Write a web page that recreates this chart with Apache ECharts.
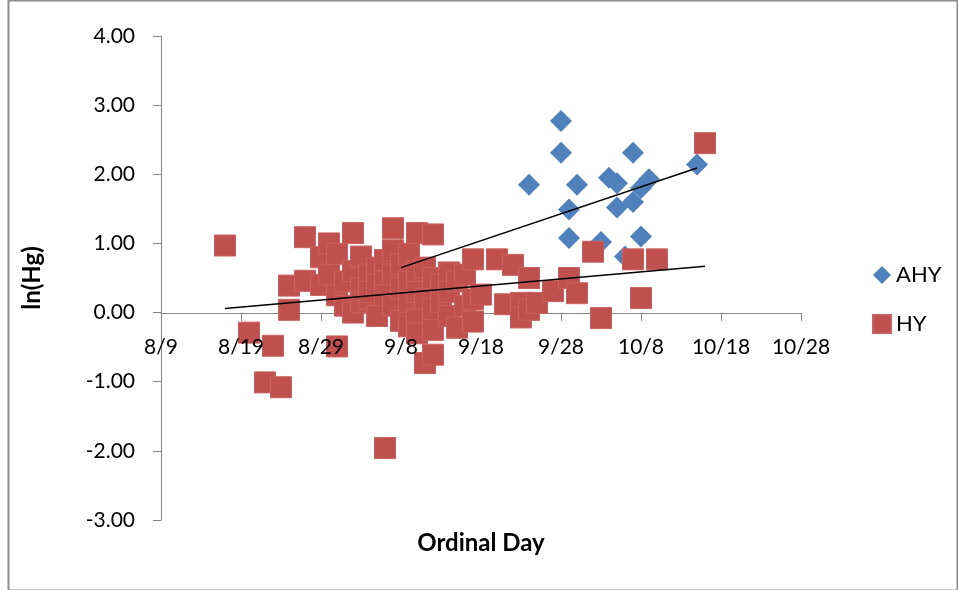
<!DOCTYPE html>
<html>
<head>
<meta charset="utf-8">
<script src="https://cdn.jsdelivr.net/npm/echarts@6/dist/echarts.min.js"></script>
<style>
html,body{margin:0;padding:0;background:#fff;}
#chart{width:958px;height:590px;}
</style>
</head>
<body>
<div id="chart"></div>
<script>
// ---- data ----
var baseDate = '8/9';                 // first x tick
var xTickStepDays = 10;
var xSpanDays = 80;                   // 8/9 .. 10/28
var yTicks = [-3, -2, -1, 0, 1, 2, 3, 4];

var ahyDates  = ['9/8','9/10','9/13','9/24','9/28','9/28','9/29','9/29','9/30','10/3','10/4','10/5','10/5','10/6','10/7','10/7','10/8','10/8','10/9','10/15'];
var ahyValues = [0.90, 0.00, 0.45, 1.85, 2.77, 2.31, 1.49, 1.08, 1.85, 1.02, 1.95, 1.87, 1.52, 0.81, 2.31, 1.60, 1.80, 1.10, 1.93, 2.14];

var hyDates = [
  '8/17','8/20','8/22','8/23','8/24','8/25','8/25','8/27','8/27',
  '8/29','8/29','8/30','8/30','8/31','8/31','8/31',
  '9/1','9/1','9/2','9/2','9/2','9/3','9/3','9/3',
  '9/4','9/4','9/4','9/5','9/5','9/5',
  '9/6','9/6','9/6','9/6','9/7','9/7','9/7','9/7',
  '9/8','9/8','9/8','9/9','9/9','9/9','9/9',
  '9/10','9/10','9/10','9/10','9/10','9/11','9/11','9/11',
  '9/12','9/12','9/12','9/12','9/12','9/13','9/13',
  '9/14','9/14','9/14','9/15','9/15','9/16','9/16',
  '9/17','9/17','9/17','9/18','9/20','9/21','9/22',
  '9/23','9/23','9/24','9/24','9/25','9/27','9/29','9/30',
  '10/2','10/3','10/7','10/8','10/10','10/16'
];
var hyValues = [
  0.97,-0.29,-1.01,-0.48,-1.08,0.04,0.39,0.46,1.09,
  0.80,0.40,1.00,0.55,0.85,0.25,-0.49,
  0.45,0.10,1.15,0.60,0.00,0.81,0.35,0.15,
  0.55,0.20,0.30,0.65,-0.05,0.40,
  0.76,0.45,0.25,-1.96,1.22,0.90,0.55,0.10,
  0.70,0.35,-0.12,0.85,0.45,0.15,-0.20,
  1.15,0.60,0.30,-0.10,-0.30,0.65,0.20,-0.73,
  1.13,0.50,0.05,-0.25,-0.61,0.40,0.15,
  0.58,0.30,-0.05,0.45,-0.22,0.55,0.10,
  0.77,0.19,-0.13,0.26,0.77,0.12,0.69,
  0.14,-0.07,0.50,0.04,0.14,0.31,0.50,0.28,
  0.88,-0.08,0.77,0.21,0.77,2.45
];

// linear trendlines as drawn in the reference (start / end)
var ahyTrendDates  = ['9/8','10/15'];
var ahyTrendValues = [0.65, 2.09];
var hyTrendDates   = ['8/17','10/16'];
var hyTrendValues  = [0.06, 0.67];

var xTitle = 'Ordinal Day';
var yTitle = 'ln(Hg)';

// ---- helpers ----
var YEAR = 2013;
function toDate(md){ var p = md.split('/'); return new Date(YEAR, +p[0]-1, +p[1]); }
var base = toDate(baseDate);
function dayOffset(md){ return Math.round((toDate(md) - base) / 86400000); }
function pairs(ds, vs){ return ds.map(function(d,i){ return [dayOffset(d), vs[i]]; }); }
function fmtDay(v){ var d = new Date(base.getTime() + v*86400000); return (d.getMonth()+1) + '/' + d.getDate(); }

var FONT = 'Lato';
var GRID_TOP = 36, GRID_BOTTOM = 70, H = 590;
var plotH = H - GRID_TOP - GRID_BOTTOM;
var yMin = yTicks[0], yMax = yTicks[yTicks.length-1];
// place the x axis (line, ticks, labels) on the y = 0 line
var zeroOffset = -Math.round(plotH * (0 - yMin) / (yMax - yMin));

var xBase = {
  type: 'value', min: 0, max: xSpanDays, interval: xTickStepDays,
  offset: zeroOffset, position: 'bottom',
  splitLine: { show: false }
};

var chart = echarts.init(document.getElementById('chart'), null, {renderer:'canvas'});
chart.setOption({
  backgroundColor: '#ffffff',
  animation: false,
  textStyle: { fontFamily: FONT },
  grid: { left: 161, right: 157, top: GRID_TOP, bottom: GRID_BOTTOM, containLabel: false },
  legend: {
    orient: 'vertical', left: 867, top: 259, itemGap: 27,
    itemWidth: 18, itemHeight: 18,
    textStyle: { fontFamily: FONT, fontSize: 22, color: '#000' },
    data: [
      { name: 'AHY', icon: 'diamond' },
      { name: 'HY', icon: 'rect' }
    ]
  },
  xAxis: [
    Object.assign({}, xBase, {
      z: 0,
      axisLine: { onZero: false, lineStyle: { color: '#868686', width: 1 } },
      axisTick: { show: true, inside: false, length: 8, lineStyle: { color: '#868686' } },
      axisLabel: { show: false }
    }),
    Object.assign({}, xBase, {
      z: 10,
      axisLine: { show: false, onZero: false },
      axisTick: { show: false },
      axisLabel: { formatter: fmtDay, fontSize: 21, color: '#000', margin: 24, fontFamily: FONT }
    })
  ],
  yAxis: {
    type: 'value', min: yMin, max: yMax, interval: 1,
    axisLine: { show: true, lineStyle: { color: '#868686', width: 1 } },
    axisTick: { show: true, inside: false, length: 8, lineStyle: { color: '#868686' } },
    axisLabel: { formatter: function(v){ return v.toFixed(2); }, fontSize: 21, color: '#000', margin: 26, fontFamily: FONT },
    splitLine: { show: false }
  },
  graphic: [
    { type: 'rect', left: 6, top: -2, shape: { width: 949, height: 590 }, style: { fill: 'none', stroke: '#8c8c8c', lineWidth: 2 }, silent: true },
    { type: 'text', x: 481, y: 543, style: { text: xTitle, font: 'bold 24px ' + FONT, fill: '#000', textAlign: 'center', textVerticalAlign: 'middle' } },
    { type: 'text', x: 32, y: 278, rotation: Math.PI/2, style: { text: yTitle, font: 'bold 24px ' + FONT, fill: '#000', textAlign: 'center', textVerticalAlign: 'middle' } }
  ],
  series: [
    {
      name: 'AHY', type: 'scatter', symbol: 'diamond', symbolSize: 22, z: 2, xAxisIndex: 0,
      itemStyle: { color: '#4F81BD', opacity: 1 },
      data: pairs(ahyDates, ahyValues)
    },
    {
      name: 'HY', type: 'scatter', symbol: 'rect', symbolSize: 21, z: 3, xAxisIndex: 0,
      itemStyle: { color: '#C0504D', borderColor: '#C9615E', borderWidth: 1, opacity: 1 },
      data: pairs(hyDates, hyValues)
    },
    {
      name: 'AHY trend', type: 'line', symbol: 'none', z: 5, silent: true, xAxisIndex: 0,
      lineStyle: { color: '#000', width: 1.5 },
      data: pairs(ahyTrendDates, ahyTrendValues)
    },
    {
      name: 'HY trend', type: 'line', symbol: 'none', z: 5, silent: true, xAxisIndex: 0,
      lineStyle: { color: '#000', width: 1.5 },
      data: pairs(hyTrendDates, hyTrendValues)
    }
  ]
});
</script>
</body>
</html>
